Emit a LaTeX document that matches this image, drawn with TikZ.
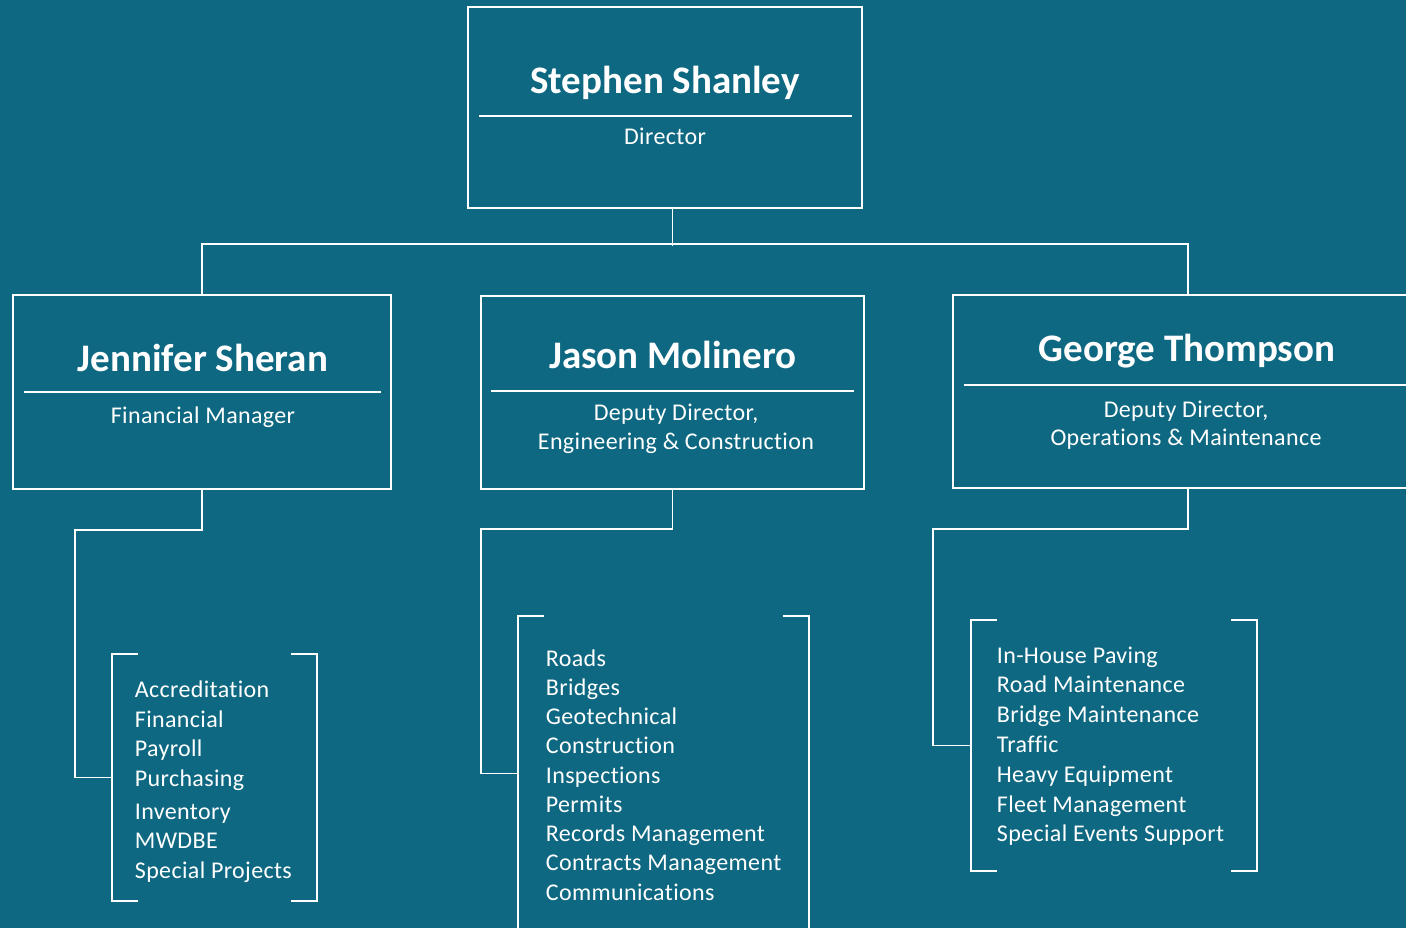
\documentclass[tikz,border=0pt]{standalone}
\usepackage{fontspec}
\setmainfont{Carlito}
\newfontfamily\spacedfont[LetterSpace=1.5,Ligatures=NoCommon]{Carlito}
\usepackage{xcolor}
\usepackage{tikz}

\definecolor{chartbg}{RGB}{14,104,130}

\newcommand{\bracketpair}[1]{%
    \draw ([xshift=13pt]#1.north west) -| (#1.south west) -- ++(26,0);
    \draw ([xshift=-13pt]#1.north east) -| (#1.south east) -- ++(-26,0);}

\begin{document}
\begin{tikzpicture}[x=0.5pt, y=-0.5pt,
                    line width=0.9pt, white,
                    box/.style n args={2}{draw=white, rectangle,
                        minimum width=#1pt, minimum height=#2pt, inner sep=0pt},
                    person/.style={font=\bfseries\fontsize{19.5}{23}\selectfont,
                        anchor=base, inner sep=0pt},
                    role/.style={font=\spacedfont\fontsize{12}{14.5}\selectfont,
                        anchor=base, inner sep=0pt},
                    duty/.style={font=\spacedfont\fontsize{12}{14.5}\selectfont,
                        anchor=base west, inner sep=0pt}]
    \fill[chartbg] (0,0) rectangle (1406,928);
    \useasboundingbox (0,0) rectangle (1406,928);

    \node[box={197}{100.5}] (dir) at (665,107.5) {};
    \node[box={189}{97}] (fin) at (202,392) {};
    \node[box={191.5}{96.5}] (eng) at (672.5,392.5) {};
    \node[box={235}{96.5}] (ops) at (1188,391.5) {};

    \draw (479,116) -- (852,116);
    \draw (24,392) -- (381,392);
    \draw (491,391) -- (854,391);
    \draw (964,385) -- (1415,385);

    \node[person] (dirname) at (665,93) {Stephen Shanley};
    \node[role] (dirrole) at (665,144) {Director};
    \node[person] (finname) at (203,371) {Jennifer Sheran};
    \node[role] (finrole) at (203,423) {Financial Manager};
    \node[person] (engname) at (673,368) {Jason Molinero};
    \node[role] (engrole) at (676,420) {Deputy Director,};
    \node[role] (engrole2) at (676,449) {Engineering \& Construction};
    \node[person] (opsname) at (1187,361) {George Thompson};
    \node[role] (opsrole) at (1186,417) {Deputy Director,};
    \node[role] (opsrole2) at (1186,445) {Operations \& Maintenance};

    \draw (eng.north |- dir.south) -- ++(0,37);
    \draw (fin.north) -- ++(0,-50) -| (ops.north);

    \node[box={101.5}{122.5}, draw=none] (finlist) at (214.5,777.5) {};
    \node[box={144.5}{156.5}, draw=none] (englist) at (663.5,773.5) {};
    \node[box={142.25}{124.5}, draw=none] (opslist) at (1113.75,745.5) {};
    \bracketpair{finlist}
    \bracketpair{englist}
    \bracketpair{opslist}

    \coordinate (finbend) at (75,530);
    \coordinate (engbend) at (481,529);
    \coordinate (opsbend) at (933,529);
    \draw (fin.south) |- (finbend) |- (finlist.west);
    \draw (eng.south) |- (engbend) |- (englist.west);
    \draw (ops.south) |- (opsbend) |- (opslist.west);

    \foreach \t/\y [count=\i] in {Accreditation/697, Financial/727, Payroll/756,
            Purchasing/786, Inventory/819, MWDBE/848, Special Projects/878}
        \node[duty] (finduty\i) at (134,\y) {\t};
    \foreach \t [count=\i from 0] in {Roads, Bridges, Geotechnical, Construction,
            Inspections, Permits, Records Management, Contracts Management,
            Communications}
        \node[duty] (engduty\i) at (545,666+29.25*\i) {\t};
    \foreach \t [count=\i from 0] in {In-House Paving, Road Maintenance,
            Bridge Maintenance, Traffic, Heavy Equipment, Fleet Management,
            Special Events Support}
        \node[duty] (opsduty\i) at (996,663+29.8*\i) {\t};
\end{tikzpicture}
\end{document}
